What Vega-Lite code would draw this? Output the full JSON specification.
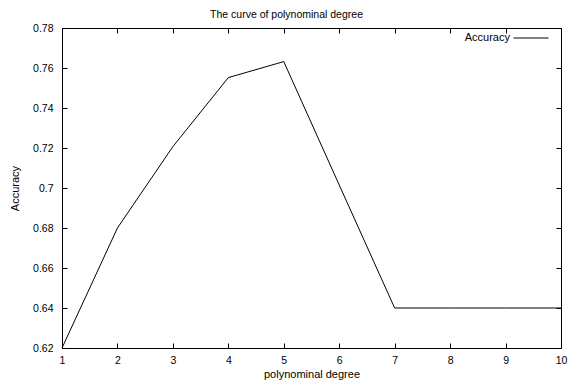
{
  "$schema": "https://vega.github.io/schema/vega-lite/v6.json",
  "width": 499,
  "height": 320,
  "autosize": {"type": "none"},
  "padding": {"left": 62, "top": 28, "right": 7, "bottom": 33},
  "background": "white",
  "title": {
    "text": "The curve of polynominal degree",
    "fontSize": 10.5,
    "font": "Liberation Sans",
    "fontWeight": "normal",
    "color": "black",
    "anchor": "middle",
    "dx": -25,
    "offset": -8,
    "baseline": "alphabetic"
  },
  "data": {
    "values": [
      {"degree": 1, "accuracy": 0.62, "series": "Accuracy"},
      {"degree": 2, "accuracy": 0.68, "series": "Accuracy"},
      {"degree": 3, "accuracy": 0.7207, "series": "Accuracy"},
      {"degree": 4, "accuracy": 0.7552, "series": "Accuracy"},
      {"degree": 5, "accuracy": 0.7632, "series": "Accuracy"},
      {"degree": 6, "accuracy": 0.7015, "series": "Accuracy"},
      {"degree": 7, "accuracy": 0.64, "series": "Accuracy"},
      {"degree": 8, "accuracy": 0.64, "series": "Accuracy"},
      {"degree": 9, "accuracy": 0.64, "series": "Accuracy"},
      {"degree": 10, "accuracy": 0.64, "series": "Accuracy"}
    ]
  },
  "config": {
    "font": "Liberation Sans",
    "view": {"stroke": "black", "strokeWidth": 1},
    "axis": {
      "grid": false,
      "domainColor": "black",
      "tickColor": "black",
      "labelColor": "black",
      "titleColor": "black",
      "labelFont": "Liberation Sans",
      "titleFont": "Liberation Sans",
      "labelFontSize": 10.5,
      "titleFontSize": 11,
      "titleFontWeight": "normal",
      "tickSize": -5,
      "labelFlush": false
    }
  },
  "layer": [
    {
      "mark": {"type": "line", "strokeWidth": 1},
      "encoding": {
        "x": {
          "field": "degree",
          "type": "quantitative",
          "scale": {"domain": [1, 10], "nice": false, "zero": false},
          "axis": {
            "orient": "bottom",
            "values": [1, 2, 3, 4, 5, 6, 7, 8, 9, 10],
            "labelPadding": 12,
            "title": "polynominal degree",
            "titleY": 29,
            "titleBaseline": "alphabetic"
          }
        },
        "y": {
          "field": "accuracy",
          "type": "quantitative",
          "scale": {"domain": [0.62, 0.78], "nice": false, "zero": false},
          "axis": {
            "orient": "left",
            "values": [0.62, 0.64, 0.66, 0.68, 0.7, 0.72, 0.74, 0.76, 0.78],
            "format": "~g",
            "labelPadding": 14,
            "title": "Accuracy",
            "titleAngle": -90,
            "titleX": -43.5,
            "titleY": 160,
            "titleAlign": "center",
            "titleBaseline": "alphabetic"
          }
        },
        "color": {
          "field": "series",
          "type": "nominal",
          "scale": {"range": ["black"]},
          "legend": {
            "title": null,
            "orient": "none",
            "legendX": 451,
            "legendY": -8,
            "padding": 0,
            "symbolType": "stroke",
            "symbolSize": 1225,
            "symbolStrokeWidth": 1,
            "symbolStrokeColor": "black",
            "labelAlign": "right",
            "labelOffset": -39,
            "labelFontSize": 11,
            "labelFont": "Liberation Sans",
            "labelColor": "black"
          }
        }
      }
    },
    {
      "mark": {"type": "line", "strokeWidth": 1, "color": "black", "strokeOpacity": 0},
      "encoding": {
        "x": {
          "field": "degree",
          "type": "quantitative",
          "axis": {
            "orient": "top",
            "values": [1, 2, 3, 4, 5, 6, 7, 8, 9, 10],
            "labels": false,
            "title": null
          }
        },
        "y": {
          "field": "accuracy",
          "type": "quantitative",
          "axis": {
            "orient": "right",
            "values": [0.62, 0.64, 0.66, 0.68, 0.7, 0.72, 0.74, 0.76, 0.78],
            "labels": false,
            "title": null
          }
        }
      }
    }
  ]
}
